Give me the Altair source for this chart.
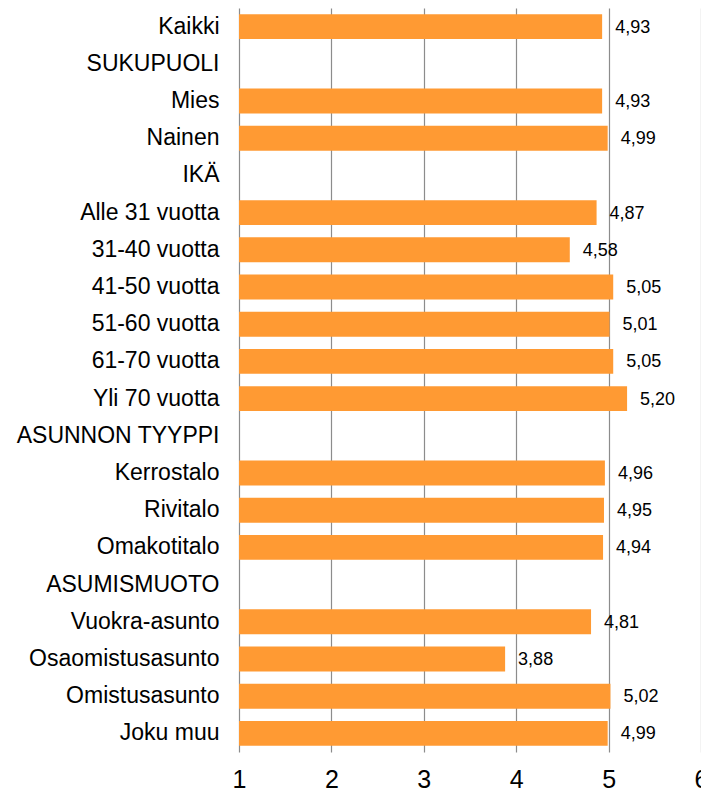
import altair as alt
import pandas as pd

categories = ["Kaikki", "SUKUPUOLI", "Mies", "Nainen", "IKÄ", "Alle 31 vuotta",
              "31-40 vuotta", "41-50 vuotta", "51-60 vuotta", "61-70 vuotta",
              "Yli 70 vuotta", "ASUNNON TYYPPI", "Kerrostalo", "Rivitalo",
              "Omakotitalo", "ASUMISMUOTO", "Vuokra-asunto", "Osaomistusasunto",
              "Omistusasunto", "Joku muu"]
values = [4.93, None, 4.93, 4.99, None, 4.87, 4.58, 5.05, 5.01, 5.05, 5.20,
          None, 4.96, 4.95, 4.94, None, 4.81, 3.88, 5.02, 4.99]
x_ticks = [1, 2, 3, 4, 5, 6]

df = pd.DataFrame({"cat": categories, "value": values})
df["base"] = 1
df["label"] = [("" if v is None or pd.isna(v) else f"{v:.2f}".replace(".", ",")) for v in df["value"]]

font = "Liberation Sans"

y_enc = alt.Y("cat:N", sort=categories,
              scale=alt.Scale(domain=categories, paddingInner=0.33, paddingOuter=0.165),
              axis=alt.Axis(title=None, ticks=False, domain=False, labelFontSize=23,
                            labelFont=font, labelColor="#000", labelPadding=20,
                            labelLimit=400))
x_scale = alt.Scale(domain=[1, 6], zero=False, nice=False)

bars = alt.Chart(df).transform_filter("datum.value != null").mark_bar(
    color="#FF9A33"
).encode(
    y=y_enc,
    x=alt.X("base:Q", scale=x_scale,
            axis=alt.Axis(title=None, values=x_ticks, ticks=False, domain=False,
                          labelFontSize=25, labelFont=font, labelColor="#000",
                          labelBaseline="alphabetic", labelPadding=35,
                          labelFlush=False, labelBound=False,
                          grid=True, gridColor="#8c8c8c",
                          gridWidth=1.2, format="d")),
    x2="value:Q",
)

labels = alt.Chart(df).transform_filter("datum.value != null").mark_text(
    align="left", baseline="middle", dx=13, dy=1, fontSize=18, font=font, color="#000"
).encode(
    y=alt.Y("cat:N", sort=categories),
    x=alt.X("value:Q", scale=x_scale),
    text="label:N",
)

chart = (bars + labels).properties(
    width=462, height=744,
    autosize=alt.AutoSizeParams(type="none"),
    padding={"left": 231, "top": 0, "right": 0, "bottom": 42},
).configure_view(stroke=None)

chart.save("out.html", embed_options={"renderer": "svg", "actions": False})
